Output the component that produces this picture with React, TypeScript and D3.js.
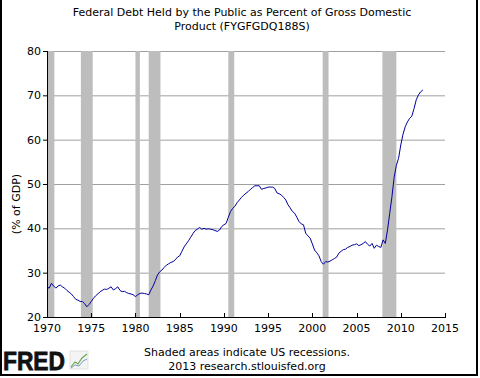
import React from "react";
import * as d3 from "d3";

const START_YEAR = 1970;
// Quarterly values (% of GDP), 1970Q1 .. 2012Q3
const debtValues: number[] = [
  26.8, 26.5, 27.6, 27.0,
  26.5, 27.0, 27.2, 26.8,
  26.5, 26.0, 25.6, 25.2,
  24.6, 24.0, 23.8, 23.5,
  23.5, 23.0, 22.3, 22.8,
  23.5, 24.2, 24.8, 25.2,
  25.7, 26.0, 26.3, 26.2,
  26.5, 26.8, 26.1, 26.4,
  26.8, 26.0, 25.7, 25.8,
  25.5, 25.3, 25.2, 25.0,
  24.6, 25.0, 25.3, 25.4,
  25.3, 25.2, 25.0, 26.1,
  27.0, 28.2, 29.5, 30.2,
  30.6, 31.2, 31.7, 32.0,
  32.3, 32.5, 32.9, 33.5,
  33.8, 34.8, 35.8, 36.5,
  37.2, 38.0, 38.8, 39.5,
  39.8, 40.2, 39.8, 40.0,
  39.8, 39.9, 39.8, 39.7,
  39.5, 39.3, 39.6, 40.4,
  40.8, 41.1, 42.5, 43.8,
  44.5, 45.0, 45.8, 46.4,
  47.0, 47.5, 47.9, 48.3,
  48.8, 49.2, 49.6, 49.6,
  49.6, 48.8, 49.0, 49.1,
  49.3, 49.3, 49.3, 49.0,
  48.0, 47.8, 47.5, 47.0,
  46.4, 45.3, 44.6, 43.8,
  43.4, 42.5, 41.5, 41.0,
  40.8, 38.9, 38.3, 37.8,
  36.5, 35.1, 34.5, 33.8,
  32.5, 31.9, 32.5, 32.4,
  32.6, 32.9, 33.2, 33.5,
  34.4, 34.8, 35.2, 35.3,
  35.7, 35.9, 36.2, 36.3,
  36.5, 36.1, 36.3, 36.6,
  37.0, 36.4, 36.0, 36.6,
  35.5, 36.2, 35.9, 35.7,
  37.4, 36.6, 39.6, 43.4,
  47.1, 51.5, 54.2, 55.8,
  58.8, 61.2, 62.9, 64.0,
  64.8, 65.3, 67.0, 69.0,
  70.1, 70.8, 71.2,
];

const recessionStarts: number[] = [1969.92, 1973.83, 1980.0, 1981.5, 1990.5, 2001.17, 2007.92];
const recessionEnds: number[] = [1970.83, 1975.17, 1980.5, 1982.83, 1991.17, 2001.83, 2009.5];

const xTicks: number[] = [1970, 1975, 1980, 1985, 1990, 1995, 2000, 2005, 2010, 2015];
const yTicks: number[] = [20, 30, 40, 50, 60, 70, 80];

const titleLines: string[] = [
  "Federal Debt Held by the Public as Percent of Gross Domestic",
  "Product (FYGFGDQ188S)",
];
const footerLines: string[] = ["Shaded areas indicate US recessions.", "2013 research.stlouisfed.org"];

const W = 480;
const H = 378;
const left = 47;
const right = 445;
const top = 51;
const bottom = 317;
const FONT = "'DejaVu Sans', Verdana, sans-serif";

export default function App() {
  const x = d3.scaleLinear().domain([1970, 2015]).range([left, right]);
  const y = d3.scaleLinear().domain([20, 80]).range([bottom, top]);
  const pts = debtValues.map((v, i) => ({ t: START_YEAR + i * 0.25, v }));
  const line = d3
    .line<{ t: number; v: number }>()
    .x((d) => x(d.t))
    .y((d) => y(d.v));

  return (
    <svg
      width={W}
      height={H}
      style={{ position: "absolute", left: 0, top: 0, display: "block", background: "#fff" }}
      fontFamily={FONT}
    >
      <rect x={0} y={0} width={W} height={H} fill="#fff" />
      {/* border */}
      <path d={`M1,0 V375 H477 V0`} fill="none" stroke="#000" strokeWidth={2} />

      {/* title */}
      {titleLines.map((t, i) => (
        <text key={t} x={242} y={16 + i * 14} textAnchor="middle" fontSize={11} fill="#000">
          {t}
        </text>
      ))}

      {/* gridlines */}
      {yTicks.slice(1).map((t) => (
        <line key={t} x1={left} x2={right} y1={y(t) + 0.5} y2={y(t) + 0.5} stroke="#a0a0a0" strokeWidth={1} />
      ))}

      {/* recessions */}
      {recessionStarts.map((s, i) => {
        const x0 = Math.max(x(s), left);
        const x1 = x(recessionEnds[i]);
        return <rect key={s} x={x0} y={top} width={x1 - x0} height={bottom - top} fill="#bdbdbd" />;
      })}

      {/* data line */}
      <path d={line(pts) || ""} fill="none" stroke="#00009c" strokeWidth={1} />

      {/* axes */}
      <line x1={left + 0.5} x2={left + 0.5} y1={top} y2={bottom + 1} stroke="#000" strokeWidth={1} />
      <line x1={left} x2={right + 1} y1={bottom + 0.5} y2={bottom + 0.5} stroke="#000" strokeWidth={1} />
      {yTicks.map((t) => (
        <g key={t}>
          <line x1={left - 4} x2={left} y1={y(t) + 0.5} y2={y(t) + 0.5} stroke="#000" />
          <text x={41} y={y(t)} dy="0.35em" textAnchor="end" fontSize={11} fill="#000">
            {t}
          </text>
        </g>
      ))}
      {xTicks.map((t) => (
        <g key={t}>
          <line x1={Math.round(x(t)) + 0.5} x2={Math.round(x(t)) + 0.5} y1={bottom - 4} y2={bottom} stroke="#000" />
          <text x={x(t)} y={332} textAnchor="middle" fontSize={11} fill="#000">
            {t}
          </text>
        </g>
      ))}

      {/* y axis title */}
      <text
        transform={`translate(20,${(top + bottom) / 2 + 20}) rotate(-90)`}
        textAnchor="middle"
        fontSize={11}
        fill="#000"
      >
        (% of GDP)
      </text>

      {/* footer */}
      {footerLines.map((t, i) => (
        <text key={t} x={247} y={356 + i * 14} textAnchor="middle" fontSize={11} fill="#000">
          {t}
        </text>
      ))}

      {/* FRED logo */}
      <text x={3} y={370} fontFamily="'Liberation Sans', Arial, sans-serif" fontWeight={900} fontSize={25} fill="#111" textLength={62} lengthAdjust="spacingAndGlyphs" stroke="#111" strokeWidth={0.8}>
        FRED
      </text>
      <g transform="translate(70,351)">
        <rect x={0} y={0} width={18} height={18} fill="#f4f4f4" stroke="#ccc" strokeWidth={0.5} />
        <path d="M1,16 L5,11 L8,13 L12,7 L17,3" fill="none" stroke="#6aa84f" strokeWidth={1.2} />
        <path d="M1,17 L5,14 L9,15 L13,10 L17,8" fill="none" stroke="#7a9cc6" strokeWidth={1} />
      </g>
    </svg>
  );
}
